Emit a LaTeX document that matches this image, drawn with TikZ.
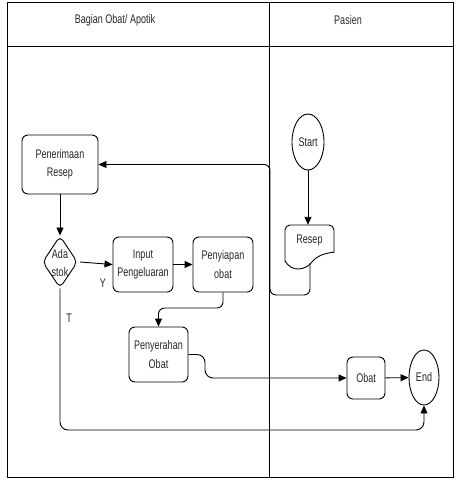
\documentclass[tikz,border=0pt]{standalone}
\usepackage{fontspec}
\setmainfont{Liberation Sans}[FakeStretch=0.72]
\usetikzlibrary{shapes.geometric,arrows.meta}
\begin{document}
\begin{tikzpicture}[x=1pt,y=-1pt,
  every node/.style={font=\fontsize{12.5}{18.5}\selectfont, text=black!85},
  proc/.style={draw, rounded corners=6pt, line width=0.9pt, align=center, inner sep=0pt},
  term/.style={draw, ellipse, line width=0.9pt, inner sep=0pt},
  conn/.style={line width=0.9pt, -{Triangle[length=8pt,width=7pt]}},
  frame/.style={line width=0.9pt}]
\useasboundingbox (0,0) rectangle (463,484);
% frame
\draw[frame] (7,2) rectangle (453,477);
\draw[frame] (7,46) -- (453,46);
\draw[frame] (269,2) -- (269,477);
\node (h1) at (115,20) {Bagian Obat/ Apotik};
\node (h2) at (348,20) {Pasien};
% nodes
\node[proc, minimum width=76pt, minimum height=59pt] (pen) at (60,164.5) {Penerimaan\\Resep};
\node[draw, diamond, line width=0.9pt, rounded corners=5pt, minimum width=35pt, minimum height=52pt, inner sep=0pt] (dia) at (60,262) {};
\node[align=center, inner sep=0pt] (diat) at (60,263) {Ada\\stok};
\node[proc, minimum width=60pt, minimum height=55pt] (inp) at (143,264.5) {Input\\Pengeluaran};
\node[proc, minimum width=60pt, minimum height=55pt] (siap) at (223,264.5) {Penyiapan\\obat};
\node[proc, minimum width=59pt, minimum height=55pt] (serah) at (158.5,354.5) {Penyerahan\\Obat};
\node[proc, minimum width=38pt, minimum height=42pt] (obat) at (366,378) {Obat};
\node[term, minimum width=30pt, minimum height=55pt] (endn) at (424,377.5) {End};
\node[term, minimum width=32pt, minimum height=56pt] (start) at (308,142) {Start};
% Resep document shape
\node[minimum width=49pt, minimum height=30pt, inner sep=0pt] (resep) at (309.5,240) {Resep};
\draw[line width=0.9pt, rounded corners=5pt] (285,262) -- (285,225) -- (334,225) -- (334,253);
\draw[line width=0.9pt] (334,252) .. controls (322,254) and (317,256) .. (312,262)
  .. controls (306,270) and (292,273) .. (285,261);
\coordinate (resepb) at (310,263);
% labels
\node (ly) at (103,283) {Y};
\node (lt) at (69,318) {T};
% connectors
\draw[conn] (start) -- (start |- resep.north);
\draw[conn, rounded corners=6pt] (resepb) -- (310,295) -- (270,295) -- (270,164.5) -- (pen.east);
\draw[conn] (pen) -- (dia);
\draw[conn] ([xshift=2pt]dia.east) -- (inp.west);
\draw[conn] (inp) -- (siap);
\draw[conn, rounded corners=6pt] (siap.south) -- (223,308) -- (158.5,308) -- (serah.north);
\draw[conn, rounded corners=8pt] (serah.east) -- (205,354.5) -- (205,378) -- (obat.west);
\draw[conn] (obat) -- (endn);
\draw[conn, rounded corners=8pt] (dia.south) -- (60,430) -- (424,430) -- (endn.south);
\end{tikzpicture}
\end{document}
